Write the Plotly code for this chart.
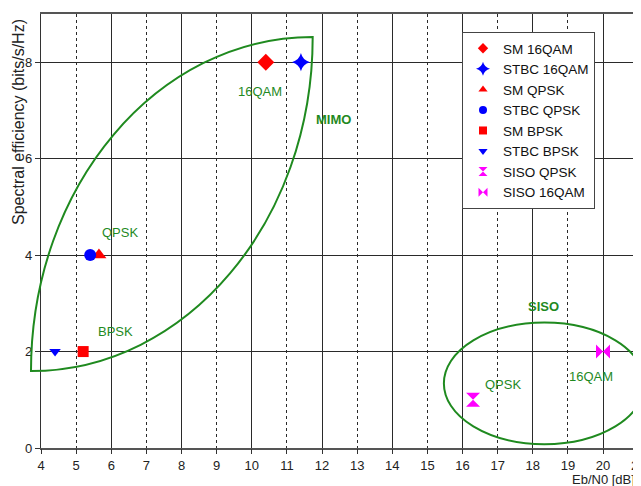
import plotly.graph_objects as go

# ---- data ----
series_names = ["SM 16QAM", "STBC 16QAM", "SM QPSK", "STBC QPSK",
                "SM BPSK", "STBC BPSK", "SISO QPSK", "SISO 16QAM"]
ebn0_db = [10.4, 11.4, 5.65, 5.4, 5.2, 4.4, 16.3, 20.0]
spectral_eff = [8, 8, 4, 4, 2, 2, 1, 2]

x_ticks = list(range(4, 22))
y_ticks = [0, 2, 4, 6, 8]

region_labels = ["16QAM", "MIMO", "QPSK", "BPSK", "SISO", "QPSK", "16QAM"]
region_label_x = [10.23, 12.32, 6.25, 6.13, 18.30, 17.16, 19.65]
region_label_y = [7.40, 6.81, 4.46, 2.42, 2.94, 1.31, 1.49]
region_label_bold = [False, True, False, False, True, False, False]

# MIMO lens: two quarter-ellipse arcs between corners (data units)
mimo_start = (3.715, 1.596)
mimo_end = (11.735, 8.524)
# SISO ellipse (data units)
siso_center = (18.33, 1.34)
siso_radius = (2.86, 1.26)

# ---- styles ----
symbols = ["diamond", "star-diamond", "triangle-up", "circle",
           "square", "triangle-down", "hourglass", "bowtie"]
colors = ["#ff0000", "#0000ff", "#ff0000", "#0000ff",
          "#ff0000", "#0000ff", "#ff00ff", "#ff00ff"]
sizes = [13, 13, 13, 12, 11, 10, 14, 14]
legend_sizes = [8, 10, 8, 8, 8, 8, 9, 9]
GREEN = "#1f8a1f"
FONT = "Liberation Sans, Arial, sans-serif"

# page body has an 8px default margin; layout is laid out in figure pixels
L, T = 33, 6            # plot-area left/top in figure px
PW, PH = 608, 434       # plot-area size in figure px
X_PX_PER_UNIT = 35.125

x_range = [4, 4 + PW / X_PX_PER_UNIT]
y_range = [0, 9]


def to_paper(x, y):
    """data -> paper coords (so outlines are not clipped at the axes)"""
    return ((x - x_range[0]) / (x_range[1] - x_range[0]),
            (y - y_range[0]) / (y_range[1] - y_range[0]))


fig = go.Figure()

for i, name in enumerate(series_names):
    fig.add_trace(go.Scatter(
        x=[ebn0_db[i]], y=[spectral_eff[i]], mode="markers", name=name,
        showlegend=False,
        marker=dict(symbol=symbols[i], color=colors[i], size=sizes[i],
                    line=dict(width=0)),
    ))

# legend-only entries (small symbols), on the overlay label axis
for i, name in enumerate(series_names):
    fig.add_trace(go.Scatter(
        x=[None], y=[None], mode="markers", name=name, xaxis="x2",
        legendgroup=f"g{i}",
        marker=dict(symbol=symbols[i], color=colors[i], size=legend_sizes[i],
                    line=dict(width=0)),
    ))

# MIMO lens path (cubic approximations of two quarter ellipses)
x0, y0 = mimo_start
x3, y3 = mimo_end
k = 0.5523
dx, dy = x3 - x0, y3 - y0
pts = [(x0, y0),
       (x0, y0 + k * dy), (x3 - k * dx, y3), (x3, y3),
       (x3, y3 - k * dy), (x0 + k * dx, y0), (x0, y0)]
pp = [to_paper(*p) for p in pts]
fmt = lambda p: f"{p[0]:.5f},{p[1]:.5f}"
path = (f"M {fmt(pp[0])} C {fmt(pp[1])} {fmt(pp[2])} {fmt(pp[3])} "
        f"C {fmt(pp[4])} {fmt(pp[5])} {fmt(pp[6])} Z")
fig.add_shape(type="path", path=path, xref="paper", yref="paper",
              line=dict(color=GREEN, width=2), fillcolor="rgba(0,0,0,0)")

cx, cy = siso_center
rx, ry = siso_radius
ex0, ey0 = to_paper(cx - rx, cy - ry)
ex1, ey1 = to_paper(cx + rx, cy + ry)
fig.add_shape(type="circle", xref="paper", yref="paper",
              x0=ex0, x1=ex1, y0=ey0, y1=ey1,
              line=dict(color=GREEN, width=2))

for t, xx, yy, b in zip(region_labels, region_label_x, region_label_y, region_label_bold):
    fig.add_annotation(x=xx, y=yy, xref="x", yref="y",
                       text=f"<b>{t}</b>" if b else t, showarrow=False,
                       font=dict(family=FONT, size=13, color=GREEN))

fig.update_layout(
    width=641, height=486,
    margin=dict(l=L, r=641 - L - PW, t=T, b=486 - T - PH, autoexpand=False),
    paper_bgcolor="white", plot_bgcolor="white",
    font=dict(family=FONT, size=13, color="#222"),
    xaxis=dict(range=x_range, dtick=2, tick0=4, showticklabels=False,
               ticks="", showgrid=True, gridcolor="#2a2a2a", gridwidth=1,
               minor=dict(dtick=1, tick0=4, showgrid=True, griddash="dot",
                          gridcolor="#2a2a2a", gridwidth=1.3),
               zeroline=False, showline=True, linecolor="#555",
               linewidth=1.5, mirror=True),
    xaxis2=dict(range=x_range, overlaying="x", anchor="y", side="bottom",
                tickmode="array", tickvals=x_ticks,
                ticktext=[str(v) for v in x_ticks],
                ticks="outside", ticklen=5, tickcolor="#333",
                showgrid=False, zeroline=False, showline=False,
                tickfont=dict(family=FONT, size=13, color="#222")),
    yaxis=dict(range=y_range, tickmode="array", tickvals=y_ticks,
               ticktext=[str(v) for v in y_ticks],
               ticks="outside", ticklen=5, tickcolor="#333",
               showgrid=True, gridcolor="#2a2a2a", gridwidth=1,
               zeroline=False, showline=True, linecolor="#333", linewidth=1.2,
               tickfont=dict(family=FONT, size=13, color="#222")),
    legend=dict(x=(454 - L) / PW, y=(PH + T - 24) / PH,
                xanchor="left", yanchor="top",
                bgcolor="white", bordercolor="#444", borderwidth=1,
                font=dict(family=FONT, size=13.5, color="#111"),
                tracegroupgap=0, itemsizing="trace"),
    showlegend=True,
)

fig.add_annotation(text="Spectral efficiency (bits/s/Hz)", textangle=-90,
                   xref="paper", yref="paper", x=(10 - L) / PW,
                   xanchor="center", yanchor="middle",
                   y=(PH + T - 114) / PH, showarrow=False,
                   font=dict(family=FONT, size=16, color="#222"))
fig.add_annotation(text="Eb/N0 [dB]", xref="paper", yref="paper",
                   x=(629 - L) / PW, xanchor="right",
                   y=(PH + T - 472) / PH, yanchor="middle",
                   showarrow=False, font=dict(family=FONT, size=13, color="#222"))

fig.write_html("out.html")
